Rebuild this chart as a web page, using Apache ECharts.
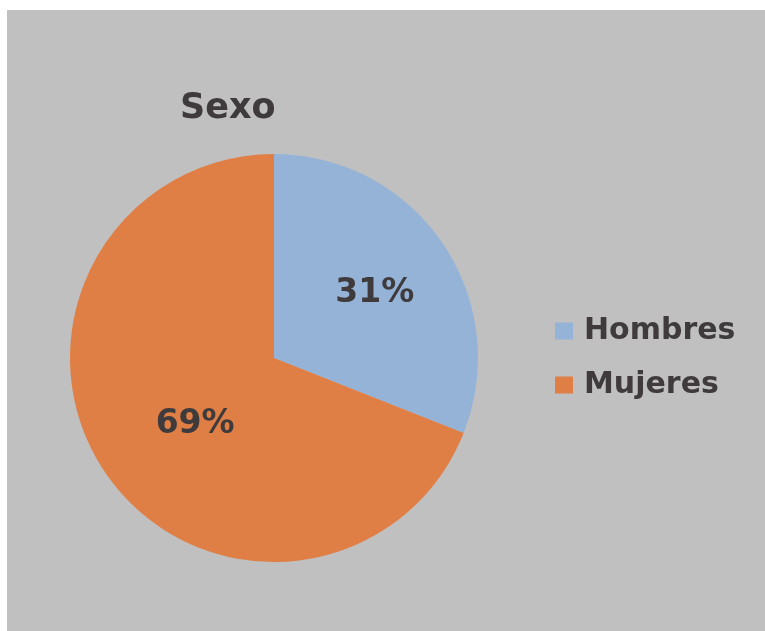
<!DOCTYPE html>
<html lang="es">
<head>
    <meta charset="utf-8">
    <title>Sexo</title>
    <script src="https://cdn.jsdelivr.net/npm/echarts@6/dist/echarts.min.js"></script>
    <style>
        html, body { margin: 0; padding: 0; background: #fff; }
        #main { width: 765px; height: 631px; }
    </style>
</head>
<body>
<div id="main"></div>
<script type="text/javascript">
    "use strict"
    // data
    var categories = ['Hombres', 'Mujeres'];
    var values = [31, 69];
    var colors = ['#95b3d7', '#e07f45'];
    // small nudges so the % labels sit where Excel put them
    var labelShift = [[14, -6], [8, 7]];

    var FONT = '"DejaVu Sans", Verdana, sans-serif';
    var TEXT = '#3f3b3d';

    var myChart = echarts.init(document.getElementById('main'));

    var option = {
        backgroundColor: '#ffffff',
        animation: false,
        graphic: [{
            type: 'rect',
            z: -10,
            shape: { x: 7, y: 10, width: 758, height: 621 },
            style: { fill: '#c0c0c0' }
        }],
        title: {
            text: 'Sexo',
            left: 180,
            top: 91,
            padding: 0,
            textStyle: {
                fontFamily: FONT,
                fontWeight: 'bold',
                fontSize: 35,
                color: TEXT
            }
        },
        legend: {
            orient: 'vertical',
            left: 555,
            top: 316,
            padding: 0,
            itemWidth: 18,
            itemHeight: 17,
            itemGap: 24,
            icon: 'rect',
            data: categories,
            textStyle: {
                fontFamily: FONT,
                fontWeight: 'bold',
                fontSize: 30,
                lineHeight: 30,
                color: TEXT,
                padding: [0, 0, 0, 6]
            }
        },
        series: [{
            type: 'pie',
            center: [274, 358],
            radius: 204,
            startAngle: 90,
            clockwise: true,
            color: colors,
            label: {
                show: true,
                position: 'inside',
                formatter: '{c}%',
                fontFamily: FONT,
                fontWeight: 'bold',
                fontSize: 33,
                color: TEXT
            },
            labelLayout: function (params) {
                var s = labelShift[params.dataIndex];
                return { dx: s[0], dy: s[1] };
            },
            labelLine: { show: false },
            itemStyle: { borderWidth: 0 },
            data: categories.map(function (name, i) {
                return { name: name, value: values[i] };
            })
        }]
    };

    myChart.setOption(option);
</script>
</body>
</html>
